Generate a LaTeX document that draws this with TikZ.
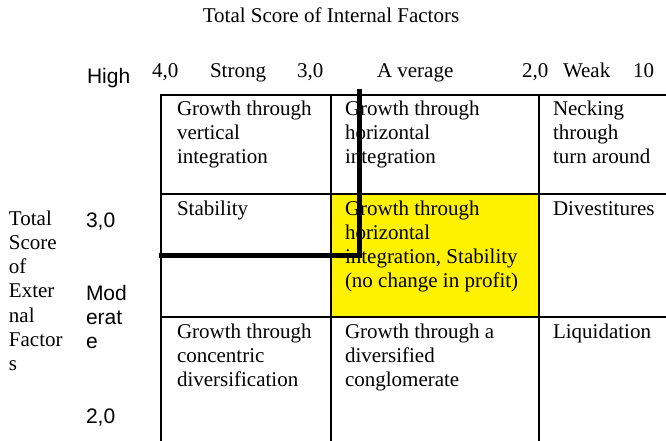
\documentclass[tikz,border=0pt]{standalone}
\usepackage{fontspec}
\setmainfont{Liberation Serif}
\setsansfont{Liberation Sans}
\begin{document}
\begin{tikzpicture}[x=1pt,y=-1pt,
  txt/.style={anchor=base west,inner sep=0pt,outer sep=0pt,align=left,font=\fontsize{21}{24.3}\selectfont},
  stxt/.style={txt,font=\sffamily\fontsize{21}{24.3}\selectfont},
  gridline/.style={line width=2pt},
  bold/.style={line width=4.6pt,line join=miter}]
\useasboundingbox (0,0) rectangle (666,441);
\begin{scope}
\clip (0,0) rectangle (666,441);
% yellow cell
\fill[yellow] (331,194) rectangle (539,317);
% grid
\draw[gridline] (161,441) -- (161,95.5) -- (667,95.5);
\draw[gridline] (331,95.5) -- (331,441);
\draw[gridline] (539,95.5) -- (539,441);
\draw[gridline] (161,194) -- (667,194);
\draw[gridline] (161,317) -- (667,317);
\end{scope}
% title
\node[txt,anchor=base] (title) at (331,23) {Total Score of Internal Factors};
% top axis
\node[txt] (t40) at (152,78) {4,0};
\node[txt] (tstrong) at (210,78) {Strong};
\node[txt] (t30) at (297,78) {3,0};
\node[txt] (tavg) at (377,78) {A verage};
\node[txt] (t20) at (522,78) {2,0};
\node[txt] (tweak) at (563,78) {Weak};
\node[txt] (t10) at (633,78) {10};
% left axis (base anchor = last line's baseline)
\node[stxt] (high) at (87,84) {High};
\node[stxt] (l30) at (86,227) {3,0};
\node[stxt] (mod) at (86,348.6) {Mod\\erat\\e};
\node[stxt] (l20) at (86,423) {2,0};
\node[txt] (ext) at (9,370.8) {Total\\Score\\of\\Exter\\nal\\Factor\\s};
% cells
\node[txt] (c11) at (177,163.6) {Growth through\\vertical\\integration};
\node[txt] (c12) at (345,163.6) {Growth through\\horizontal\\integration};
\node[txt] (c13) at (553,163.6) {Necking\\through\\turn around};
\node[txt] (c21) at (177,215) {Stability};
\node[txt] (c22) at (345,287.9) {Growth through\\horizontal\\integration, Stability\\(no change in profit)};
\node[txt] (c23) at (553,215) {Divestitures};
\node[txt] (c31) at (177,386.6) {Growth through\\concentric\\diversification};
\node[txt] (c32) at (345,386.6) {Growth through a\\diversified\\conglomerate};
\node[txt] (c33) at (553,338) {Liquidation};
% thick boundary line
\draw[bold] (359.5,89) -- (359.5,255.5) -- (159,255.5);
\end{tikzpicture}
\end{document}
